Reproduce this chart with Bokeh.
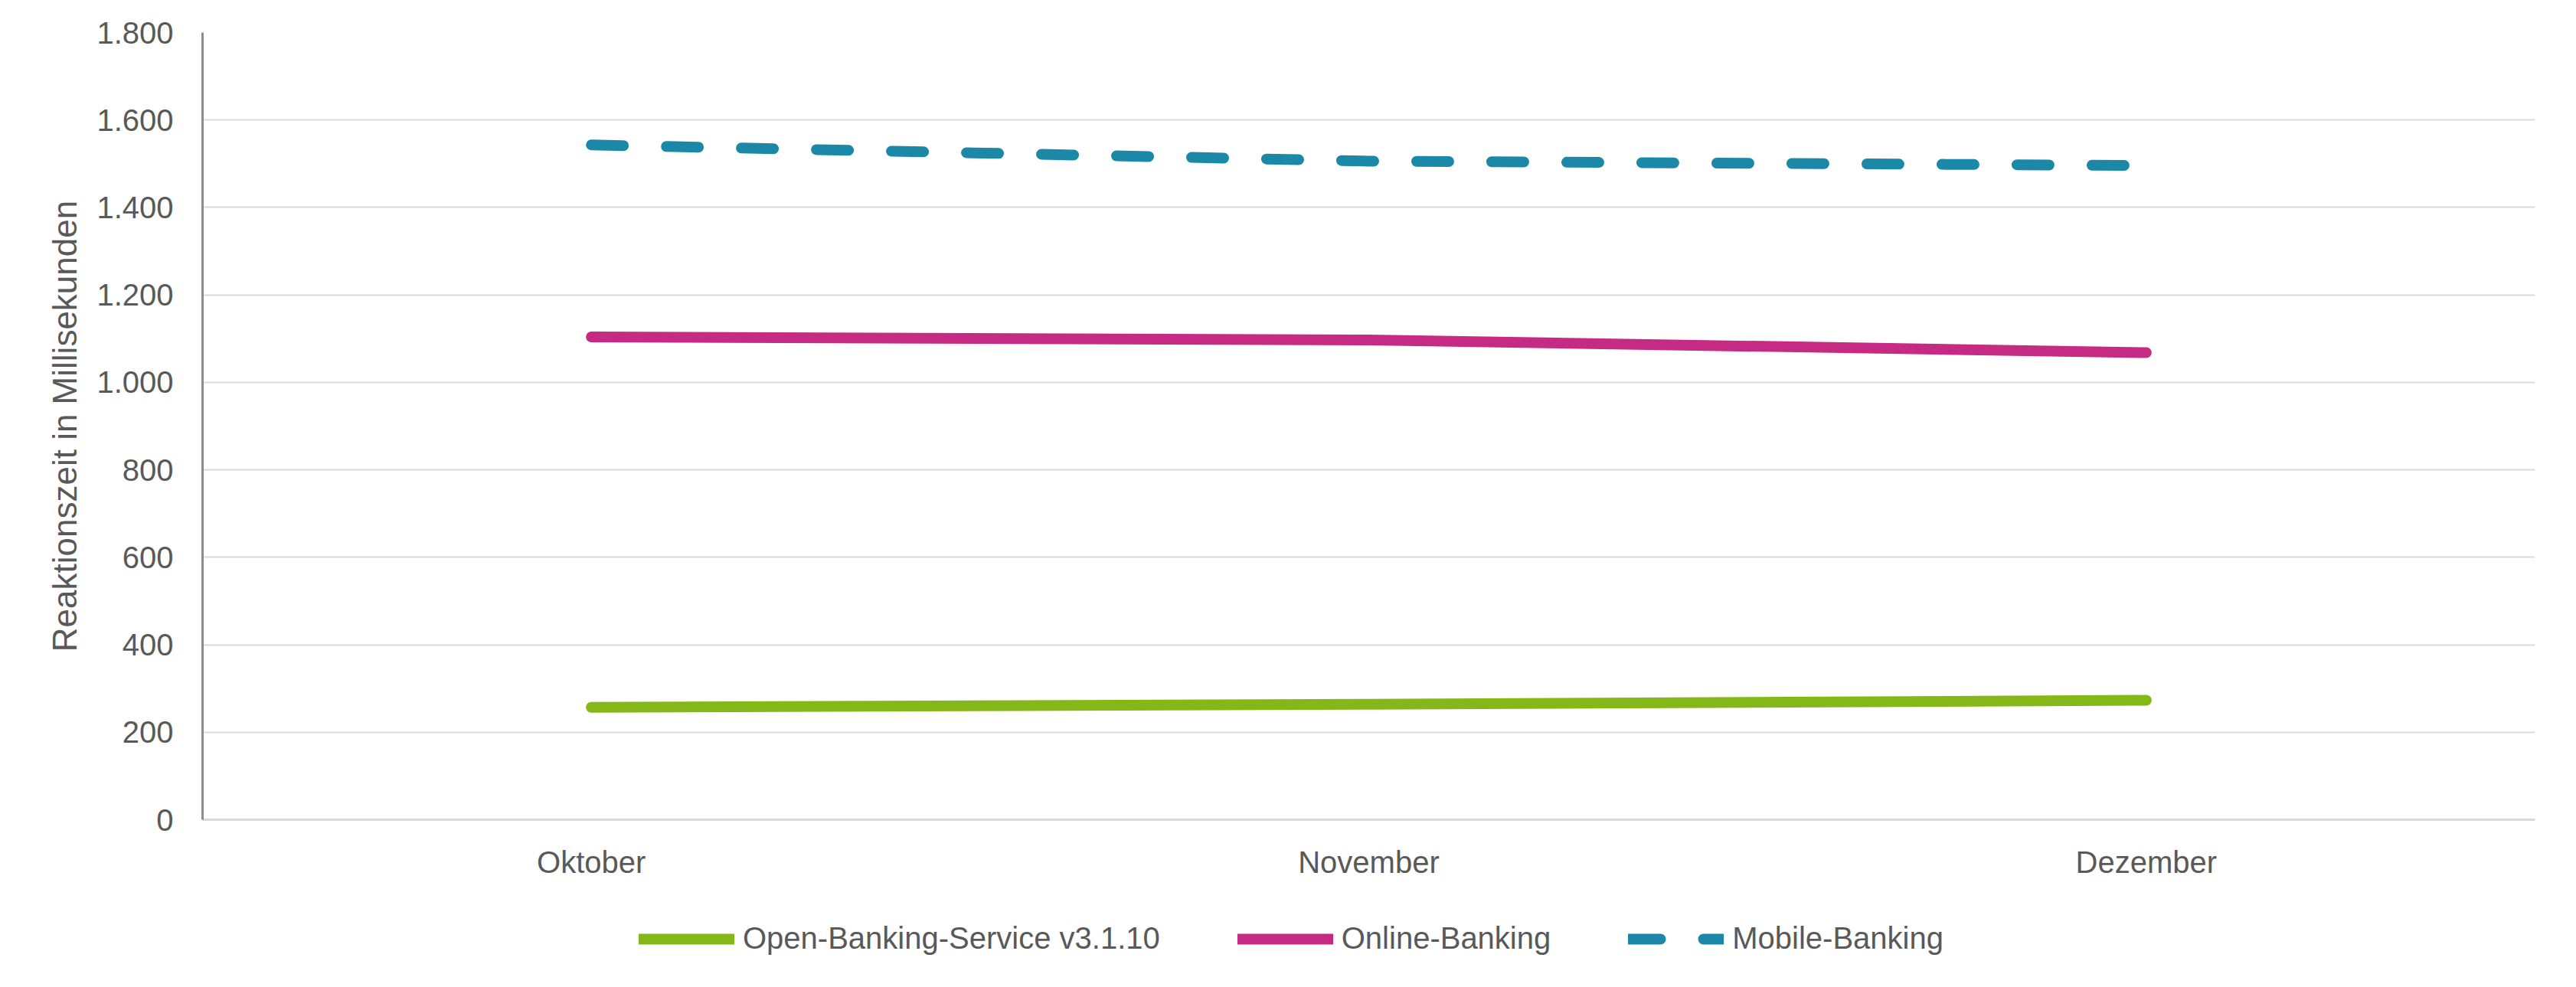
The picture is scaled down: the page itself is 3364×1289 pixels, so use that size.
from bokeh.plotting import figure
from bokeh.models import FactorRange, FixedTicker, Legend, LegendItem, Range1d
from bokeh.layouts import column
from bokeh.embed import file_html
from bokeh.resources import INLINE

# ---- data ----
months = ["Oktober", "November", "Dezember"]
open_banking = [257, 264, 273]
online_banking = [1104, 1097, 1068]
mobile_banking = [1543, 1506, 1496]
series_names = ["Open-Banking-Service v3.1.10", "Online-Banking", "Mobile-Banking"]
y_ticks = [0, 200, 400, 600, 800, 1000, 1200, 1400, 1600, 1800]
y_tick_labels = ["0", "200", "400", "600", "800", "1.000", "1.200", "1.400", "1.600", "1.800"]
y_title = "Reaktionszeit in Millisekunden"

# ---- style ----
FONT = "Liberation Sans"
TXT = "#595959"
GREEN = "#84B818"
PINK = "#C62B83"
BLUE = "#1B88A8"
W = 3348
H_MAIN = 1160
H_LEG = 113

styles = [
    dict(line_color=GREEN, line_width=14, line_cap="round", line_join="round"),
    dict(line_color=PINK, line_width=14, line_cap="round", line_join="round"),
    dict(line_color=BLUE, line_width=14, line_cap="round", line_join="round", line_dash="42 56"),
]
series = [open_banking, online_banking, mobile_banking]

p = figure(
    width=W, height=H_MAIN,
    x_range=FactorRange(factors=months),
    y_range=(0, 1800),
    output_backend="svg", toolbar_location=None,
    min_border_left=264, min_border_right=38,
    min_border_top=42, min_border_bottom=H_MAIN - 1070,
)
p.outline_line_color = None

for ys, st in zip(series, styles):
    p.line(months, ys, **st)

# grid
p.xgrid.visible = False
p.ygrid.grid_line_color = "#d9d9d9"
p.ygrid.grid_line_width = 2

# y axis
p.yaxis.ticker = FixedTicker(ticks=y_ticks)
p.yaxis.major_label_overrides = {t: l for t, l in zip(y_ticks, y_tick_labels)}
p.yaxis.axis_label = y_title
p.yaxis.axis_label_text_font = FONT
p.yaxis.axis_label_text_font_size = "44px"
p.yaxis.axis_label_text_font_style = "normal"
p.yaxis.axis_label_text_color = TXT
p.yaxis.axis_label_standoff = 14
p.yaxis.major_label_text_font = FONT
p.yaxis.major_label_text_font_size = "40px"
p.yaxis.major_label_text_color = TXT
p.yaxis.major_label_standoff = 32
p.yaxis.major_tick_line_color = None
p.yaxis.minor_tick_line_color = None
p.yaxis.axis_line_color = "#8c8c8c"
p.yaxis.axis_line_width = 3

# x axis
p.xaxis.major_label_text_font = FONT
p.xaxis.major_label_text_font_size = "40px"
p.xaxis.major_label_text_color = TXT
p.xaxis.major_label_standoff = 27
p.xaxis.major_tick_line_color = None
p.xaxis.minor_tick_line_color = None
p.xaxis.axis_line_color = "#d9d9d9"
p.xaxis.axis_line_width = 3

# ---- legend strip (separate figure below the chart) ----
# the series are drawn again here but fall outside this strip's y range,
# so only their legend glyphs are visible
q = figure(
    width=W, height=H_LEG,
    x_range=FactorRange(factors=months), y_range=Range1d(-2, -1),
    x_axis_type=None, y_axis_type=None,
    output_backend="svg", toolbar_location=None,
    min_border=0,
)
q.outline_line_color = None
q.xgrid.visible = False
q.ygrid.visible = False

items = []
for name, ys, st in zip(series_names, series, styles):
    r = q.line(months, ys, **st)
    items.append(LegendItem(label=name, renderers=[r]))

legend = Legend(
    items=items,
    orientation="horizontal",
    location=(570, 25),
    padding=0, margin=0, spacing=101,
    glyph_width=125, glyph_height=20, label_standoff=11,
    label_text_font=FONT, label_text_font_size="40px", label_text_color=TXT,
    border_line_color=None, background_fill_alpha=0,
)
q.add_layout(legend, "center")

layout = column(p, q, spacing=0)
open("out.html", "w").write(file_html(layout, INLINE))
